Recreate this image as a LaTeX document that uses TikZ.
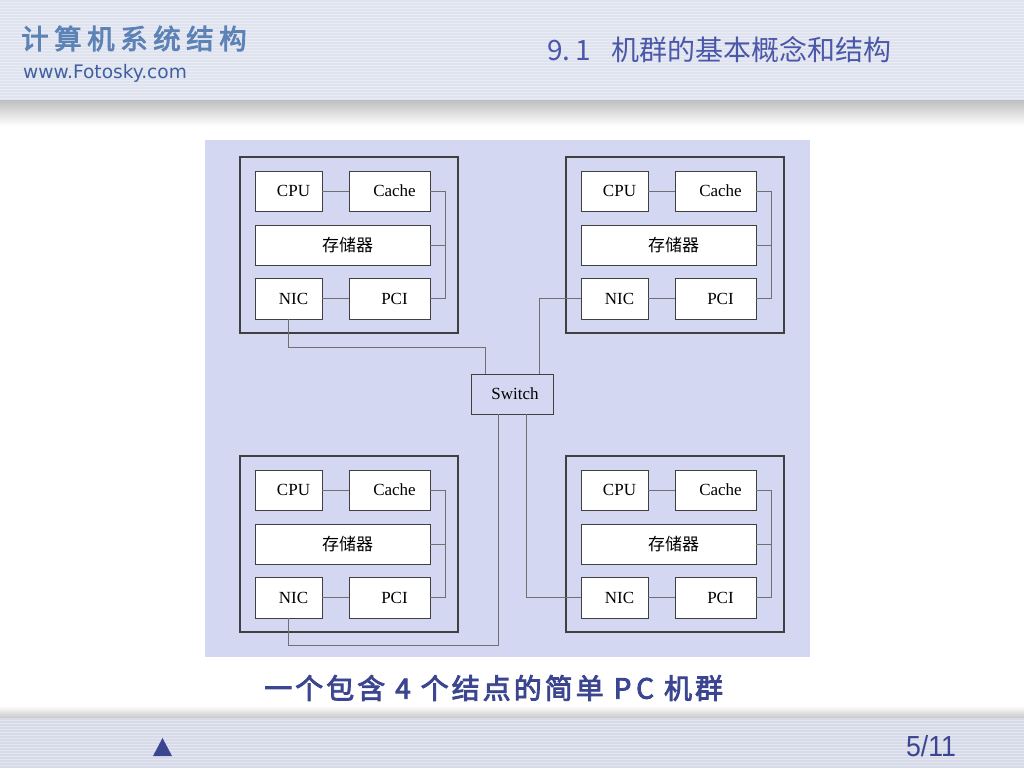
\documentclass[tikz,border=0pt]{standalone}
\usepackage{fontspec}
\setmainfont{Liberation Serif}
\newfontfamily\cjk{Noto Sans CJK SC}
\newfontfamily\cjkfb[FakeBold=3]{Noto Sans CJK SC}
\newfontfamily\dv{DejaVu Sans}
\newfontfamily\lsans{Liberation Sans}
\usetikzlibrary{calc}
\definecolor{hdr}{HTML}{DFE3EF}
\definecolor{ftr}{HTML}{D7DBE9}
\definecolor{diag}{HTML}{D3D7F2}
\definecolor{ttl}{HTML}{4B57A8}
\definecolor{capblue}{HTML}{3B4590}
\definecolor{logo}{HTML}{5C82B6}
\definecolor{web}{HTML}{3E5FA0}
\definecolor{wirec}{HTML}{707070}
\definecolor{boxc}{HTML}{404040}
\newcommand\capgap{\hspace{3pt}}
\newcommand\capbig{\hspace{10pt}}
\newcommand\logogap{\hspace{5.5pt}}
\tikzset{
  outerbox/.style={draw=boxc, line width=1.2pt, inner sep=0pt, outer sep=0pt, anchor=north west},
  comp/.style={draw=boxc, line width=0.9pt, fill=white, inner sep=0pt, outer sep=0pt, anchor=north west,
     minimum height=40pt, font=\fontsize{17}{17}\selectfont, execute at begin node={\hspace*{10pt}}},
  wire/.style={draw=wirec, line width=0.9pt},
  swbox/.style={draw=boxc, line width=0.9pt, inner sep=0pt, outer sep=0pt, minimum width=82pt, minimum height=40pt,
     font=\fontsize{17}{17}\selectfont, execute at begin node={\hspace*{6pt}}}
}
\newcommand\pcblock[3]{%
  \node[outerbox, minimum width=218pt, minimum height=176pt] (#1o) at (#2,#3) {};
  \node[comp, minimum width=67pt] (#1cpu) at (#2+15,#3+14) {CPU};
  \node[comp, minimum width=81pt] (#1cache) at (#2+109,#3+14) {Cache};
  \node[comp, minimum width=175pt] (#1mem) at (#2+15,#3+68) {\cjk 存储器};
  \node[comp, minimum width=67pt, minimum height=41pt] (#1nic) at (#2+15,#3+121) {NIC};
  \node[comp, minimum width=81pt, minimum height=41pt] (#1pci) at (#2+109,#3+121) {PCI};
  \draw[wire] (#1cpu.east) -- (#1cache.west);
  \draw[wire] (#1nic.east) -- (#1pci.west);
  \draw[wire] (#1cache.east) -- ++(15,0) |- (#1pci.east);
  \draw[wire] (#1mem.east) -- ++(15,0);
}
\begin{document}
\begin{tikzpicture}[x=1pt,y=-1pt]
\useasboundingbox (0,0) rectangle (1024,768);
\fill[white] (0,0) rectangle (1024,768);
% header
\fill[hdr] (0,0) rectangle (1024,100);
\foreach \yy in {2,5,...,98} \draw[white, opacity=0.35, line width=0.6pt] (0,\yy) -- (1024,\yy);
\shade[top color=black!25, bottom color=white] (0,100) rectangle (1024,126);
% footer
\shade[top color=white, bottom color=black!22] (0,706) rectangle (1024,718);
\fill[ftr] (0,718) rectangle (1024,768);
\foreach \yy in {720,723,...,766} \draw[white, opacity=0.35, line width=0.6pt] (0,\yy) -- (1024,\yy);
% header texts
\node[anchor=west, text=logo, font=\cjkfb\fontsize{27.5}{27.5}\selectfont, inner sep=0pt] (logo) at (21,38.5) {计\logogap 算\logogap 机\logogap 系\logogap 统\logogap 结\logogap 构};
\node[anchor=west, text=web, font=\dv\fontsize{18.6}{18.6}\selectfont, inner sep=0pt] (web) at (23,73) {www.Fotosky.com};
\node[anchor=west, text=ttl, font=\cjk\fontsize{28}{28}\selectfont, inner sep=0pt] (title) at (547,50) {\makebox[64pt][l]{9.\,1}机群的基本概念和结构};
% diagram
\fill[diag] (205,140) rectangle (810,657);
\pcblock{tl}{240}{157}
\pcblock{tr}{566}{157}
\pcblock{bl}{240}{456}
\pcblock{br}{566}{456}
\node[swbox] (sw) at (512,394) {Switch};
\coordinate (j1) at (485,347);
\coordinate (j2) at (498,645);
\draw[wire] (tlnic.south) |- (j1) -- (j1 |- sw.north);
\draw[wire] ([xshift=27pt]sw.north) |- (trnic.west);
\draw[wire] ([xshift=-14pt]sw.south) -- (j2) -| (blnic.south);
\draw[wire] ([xshift=14pt]sw.south) |- (brnic.west);
% caption
\node[anchor=west, text=capblue, font=\cjkfb\fontsize{28}{28}\selectfont, inner sep=0pt] (caption) at (264,688) {一\capgap 个\capgap 包\capgap 含\capbig 4\capbig 个\capgap 结\capgap 点\capgap 的\capgap 简\capgap 单\capbig P\,C\capbig 机\capgap 群};
% footer
\fill[capblue] (153,756) -- (162.5,738) -- (172,756) -- cycle;
\node[text=capblue, font=\lsans\fontsize{29}{29}\selectfont, inner sep=0pt, xscale=0.92] (pg) at (931,746) {5/11};
\end{tikzpicture}
\end{document}
